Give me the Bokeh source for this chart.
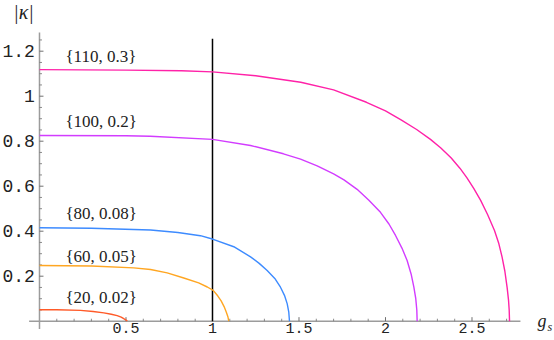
from bokeh.plotting import figure
from bokeh.models import Range1d
from bokeh.core.properties import value
from bokeh.embed import file_html
from bokeh.resources import INLINE

# ---- data ----
series_names = ["{110, 0.3}", "{100, 0.2}", "{80, 0.08}", "{60, 0.05}", "{20, 0.02}"]
series_colors = ["#ff22a8", "#d23cff", "#3d8bff", "#ffa622", "#ff5a28"]

x110 = [0.0, 0.5, 0.82, 1.0, 1.25, 1.51, 1.70, 1.89, 2.0, 2.09, 2.18, 2.26, 2.32, 2.38, 2.43, 2.47, 2.51, 2.55, 2.59, 2.63, 2.655, 2.674, 2.69, 2.703, 2.711, 2.715, 2.717]
y110 = [1.118, 1.116, 1.113, 1.108, 1.091, 1.062, 1.028, 0.973, 0.935, 0.895, 0.852, 0.808, 0.77, 0.725, 0.68, 0.638, 0.59, 0.537, 0.474, 0.403, 0.345, 0.285, 0.222, 0.15, 0.095, 0.05, 0.0]

x100 = [0.0, 0.5, 0.64, 1.0, 1.22, 1.41, 1.509, 1.605, 1.70, 1.76, 1.836, 1.904, 1.971, 2.02, 2.058, 2.095, 2.125, 2.148, 2.164, 2.175, 2.181, 2.183]
y100 = [0.825, 0.824, 0.822, 0.808, 0.781, 0.744, 0.72, 0.69, 0.655, 0.628, 0.586, 0.538, 0.484, 0.432, 0.381, 0.325, 0.270, 0.21, 0.151, 0.1, 0.05, 0.0]

x80 = [0.0, 0.3, 0.642, 0.8, 0.93, 1.004, 1.123, 1.22, 1.27, 1.316, 1.36, 1.393, 1.416, 1.432, 1.441, 1.445]
y80 = [0.415, 0.413, 0.405, 0.394, 0.38, 0.364, 0.331, 0.286, 0.257, 0.225, 0.19, 0.151, 0.115, 0.077, 0.04, 0.0]

x60 = [0.0, 0.3, 0.545, 0.642, 0.738, 0.834, 0.92, 0.97, 1.004, 1.03, 1.05, 1.067, 1.08, 1.089, 1.094]
y60 = [0.2475, 0.245, 0.237, 0.230, 0.215, 0.192, 0.17, 0.152, 0.137, 0.113, 0.09, 0.065, 0.04, 0.02, 0.0]

x20 = [0.0, 0.1, 0.237, 0.31, 0.372, 0.415, 0.449, 0.472, 0.487, 0.498, 0.504, 0.507]
y20 = [0.051, 0.051, 0.048, 0.043, 0.037, 0.031, 0.025, 0.018, 0.011, 0.006, 0.003, 0.0]

label_x = [0.15, 0.15, 0.15, 0.15, 0.15]
label_y = [1.176, 0.888, 0.479, 0.288, 0.105]

xtick_major = [0.5, 1.0, 1.5, 2.0, 2.5]
xtick_labels = ["0.5", "1", "1.5", "2", "2.5"]
xtick_minor = [0.1, 0.2, 0.3, 0.4, 0.6, 0.7, 0.8, 0.9, 1.1, 1.2, 1.3, 1.4,
               1.6, 1.7, 1.8, 1.9, 2.1, 2.2, 2.3, 2.4, 2.6, 2.7]
ytick_major = [0.2, 0.4, 0.6, 0.8, 1.0, 1.2]
ytick_labels = ["0.2", "0.4", "0.6", "0.8", "1", "1.2"]
ytick_minor = [0.05, 0.1, 0.15, 0.25, 0.3, 0.35, 0.45, 0.5, 0.55, 0.65, 0.7, 0.75,
               0.85, 0.9, 0.95, 1.05, 1.1, 1.15, 1.25]

vline_x = 1.0
vline_top = 1.255
x_axis_extent = (-0.06, 2.78)
y_axis_extent = (-0.035, 1.283)

# ---- figure ----
p = figure(width=554, height=340, output_backend="svg", toolbar_location=None,
           x_axis_type=None, y_axis_type=None, min_border=0,
           x_range=Range1d(-0.2254, 2.9769), y_range=Range1d(-0.0858, 1.4253))
p.outline_line_color = None
p.grid.visible = False
p.background_fill_color = "white"
p.border_fill_color = "white"

axis_col = "#9c9c9c"
tick_col = "#707070"

p.segment(x0=[x_axis_extent[0]], y0=[0], x1=[x_axis_extent[1]], y1=[0], line_color=axis_col, line_width=1.5)
p.segment(x0=[0], y0=[y_axis_extent[0]], x1=[0], y1=[y_axis_extent[1]], line_color=axis_col, line_width=1.5)

p.segment(x0=xtick_major, y0=[0]*len(xtick_major), x1=xtick_major, y1=[0.018]*len(xtick_major),
          line_color=tick_col, line_width=1)
p.segment(x0=xtick_minor, y0=[0]*len(xtick_minor), x1=xtick_minor, y1=[0.011]*len(xtick_minor),
          line_color=tick_col, line_width=0.8)
p.segment(x0=[0]*len(ytick_major), y0=ytick_major, x1=[0.023]*len(ytick_major), y1=ytick_major,
          line_color=tick_col, line_width=1)
p.segment(x0=[0]*len(ytick_minor), y0=ytick_minor, x1=[0.0145]*len(ytick_minor), y1=ytick_minor,
          line_color=tick_col, line_width=0.8)

p.text(x=xtick_major, y=[-0.009]*len(xtick_major), text=xtick_labels,
       text_font=value("Liberation Mono"), text_font_size="15px", text_color="#222222",
       text_align="center", text_baseline="top")
p.text(x=[-0.027]*len(ytick_major), y=ytick_major, text=ytick_labels,
       text_font=value("Liberation Mono"), text_font_size="18px", text_color="#222222",
       text_align="right", text_baseline="middle")

p.segment(x0=[vline_x], y0=[0], x1=[vline_x], y1=[vline_top], line_color="black", line_width=1.5)

for xs, ys, c in zip([x110, x100, x80, x60, x20], [y110, y100, y80, y60, y20], series_colors):
    p.line(xs, ys, line_color=c, line_width=1.4)

p.text(x=label_x, y=label_y, text=series_names,
       text_font=value("Liberation Serif"), text_font_size="17px", text_color="#222222",
       text_align="left", text_baseline="middle")

p.text(x=[-0.0925], y=[1.422], text=["|κ|"], text_font=value("Liberation Serif"),
       text_font_size="20px", text_font_style="italic", text_color="#222222",
       text_align="center", text_baseline="top")
p.text(x=[2.879], y=[0.0], text=["g"], text_font=value("Liberation Serif"),
       text_font_size="18px", text_font_style="italic", text_color="#222222",
       text_align="left", text_baseline="alphabetic")
p.text(x=[2.936], y=[-0.026], text=["s"], text_font=value("Liberation Serif"),
       text_font_size="12px", text_font_style="italic", text_color="#222222",
       text_align="left", text_baseline="alphabetic")

open("out.html", "w").write(file_html(p, INLINE))
